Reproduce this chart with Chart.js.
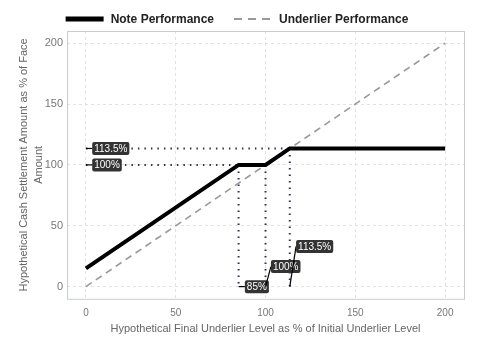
<!DOCTYPE html>
<html>
<head>
<meta charset="utf-8">
<script src="https://cdn.jsdelivr.net/npm/chart.js@4"></script>
<style>
  html, body { margin: 0; padding: 0; background: #fff; }
  #wrap { width: 480px; height: 360px; }
</style>
</head>
<body>
<div id="wrap"><canvas id="payoffChart" width="480" height="360"></canvas></div>
<script>
// payoff data
const noteLevels = [0, 85, 100, 113.5, 200];
const noteValues = [15, 100, 100, 113.5, 113.5];
const underLevels = [0, 200];
const underValues = [0, 200];

// reference markers (level, payoff)
const refLevels = [85, 100, 113.5];
const refValues = [100, 100, 113.5];

// label text + anchor in data units
const labelTexts = ['113.5%', '100%', '85%', '100%', '113.5%'];
const labelFromX = [0, 0, 85, 100, 113.5];
const labelFromY = [113.5, 100, 0, 0, 0];
const labelAtX = [3.5, 3.5, 88.5, 103, 117];
const labelAtY = [113.5, 100, 0, 16.5, 33];

const FONT = "'Liberation Sans', Arial, sans-serif";
const pts = (xs, ys) => xs.map((x, i) => ({ x: x, y: ys[i] }));

let datasets = [
    {
        label: 'Note Performance',
        data: pts(noteLevels, noteValues),
        borderColor: '#000',
        borderWidth: 4,
        pointRadius: 0,
        order: 1,
        legendLine: { width: 5, dash: [] },
    },
    {
        label: 'Underlier Performance',
        data: pts(underLevels, underValues),
        borderColor: '#999',
        borderWidth: 1.6,
        borderDash: [7, 5],
        pointRadius: 0,
        order: 2,
        legendLine: { width: 2, dash: [8, 6] },
    },
];

// dotted guides: vertical down to 0, horizontal from 0 to the kink
refLevels.forEach((lv, i) => {
    datasets.push({
        label: 'ref',
        data: [{ x: lv, y: refValues[i] }, { x: lv, y: 0 }],
        borderColor: '#2b3550',
        borderWidth: 2,
        borderDash: [1.5, 5],
        pointRadius: 0,
        order: 3,
    });
});
[100, 113.5].forEach((v, i) => {
    datasets.push({
        label: 'ref',
        data: [{ x: 0, y: v }, { x: i === 0 ? 85 : 113.5, y: v }],
        borderColor: '#2b3550',
        borderWidth: 2,
        borderDash: [1.5, 5],
        pointRadius: 0,
        order: 3,
    });
});

const panelBorder = {
    id: 'panelBorder',
    beforeDatasetsDraw(chart) {
        const { ctx, chartArea: a } = chart;
        ctx.save();
        ctx.strokeStyle = '#c8ccd2';
        ctx.lineWidth = 1;
        ctx.strokeRect(a.left + 0.5, a.top + 0.5, a.right - a.left, a.bottom - a.top);
        ctx.restore();
    }
};

// legend drawn by hand so line swatches + spacing match
const lineLegend = {
    id: 'lineLegend',
    afterDraw(chart) {
        const ctx = chart.ctx;
        const items = chart.data.datasets.filter(d => d.label !== 'ref');
        const sw = 38, gap = 7, between = 20, y = 19;
        ctx.save();
        ctx.font = 'bold 12px ' + FONT;
        ctx.textBaseline = 'middle';
        let total = 0;
        items.forEach((d, i) => { total += sw + gap + ctx.measureText(d.label).width + (i ? between : 0); });
        let x = chart.width / 2 - 3 - total / 2;
        items.forEach(d => {
            ctx.strokeStyle = d.borderColor;
            ctx.lineWidth = d.legendLine.width;
            ctx.setLineDash(d.legendLine.dash);
            ctx.beginPath();
            ctx.moveTo(x, y);
            ctx.lineTo(x + sw, y);
            ctx.stroke();
            x += sw + gap;
            ctx.fillStyle = '#222';
            ctx.fillText(d.label, x, y + 0.5);
            x += ctx.measureText(d.label).width + between;
        });
        ctx.restore();
    }
};

const valueLabels = {
    id: 'valueLabels',
    afterDatasetsDraw(chart) {
        const { ctx, scales: { x, y } } = chart;
        ctx.save();
        ctx.font = '10px ' + FONT;
        ctx.textBaseline = 'middle';
        labelTexts.forEach((t, i) => {
            const fx = x.getPixelForValue(labelFromX[i]);
            const fy = y.getPixelForValue(labelFromY[i]);
            const bx = x.getPixelForValue(labelAtX[i]);
            const by = y.getPixelForValue(labelAtY[i]);
            const w = ctx.measureText(t).width + 4;
            const h = 13;
            // leader line
            ctx.strokeStyle = '#000';
            ctx.lineWidth = 1.2;
            ctx.setLineDash([]);
            ctx.beginPath();
            ctx.moveTo(fx, fy);
            ctx.lineTo(bx, by);
            ctx.stroke();
            // box
            ctx.fillStyle = '#333';
            ctx.beginPath();
            ctx.roundRect(bx, by - h / 2, w, h, 2);
            ctx.fill();
            ctx.fillStyle = '#fff';
            ctx.fillText(t, bx + 2, by + 0.5);
        });
        ctx.restore();
    }
};

new Chart(document.getElementById('payoffChart'), {
    type: 'line',
    data: { datasets: datasets },
    options: {
        responsive: false,
        animation: false,
        layout: { padding: { top: 31, right: 16, bottom: 24, left: 17 } },
        plugins: {
            tooltip: { enabled: false },
            legend: { display: false },
        },
        scales: {
            x: {
                type: 'linear',
                min: -10.5,
                max: 210.5,
                afterBuildTicks: axis => { axis.ticks = [0, 50, 100, 150, 200].map(v => ({ value: v })); },
                ticks: { color: '#777', font: { family: FONT, size: 10 }, padding: 8 },
                grid: { color: '#e2e2e2', drawTicks: false },
                border: { display: false, dash: [3, 3] },
                title: {
                    display: true,
                    text: 'Hypothetical Final Underlier Level as % of Initial Underlier Level',
                    color: '#666',
                    font: { family: FONT, size: 11 },
                    padding: { top: -4, bottom: 0 },
                },
            },
            y: {
                type: 'linear',
                min: -10,
                max: 210,
                afterBuildTicks: axis => { axis.ticks = [0, 50, 100, 150, 200].map(v => ({ value: v })); },
                ticks: { color: '#777', font: { family: FONT, size: 11 }, padding: 4 },
                grid: { color: '#e2e2e2', drawTicks: false },
                border: { display: false, dash: [3, 3] },
                title: {
                    display: true,
                    text: ['Hypothetical Cash Settlement Amount as % of Face', 'Amount'],
                    color: '#666',
                    font: { family: FONT, size: 11, lineHeight: 1.35 },
                    padding: { top: 0, bottom: -6 },
                },
            },
        },
    },
    plugins: [panelBorder, valueLabels, lineLegend],
});
</script>
</body>
</html>
